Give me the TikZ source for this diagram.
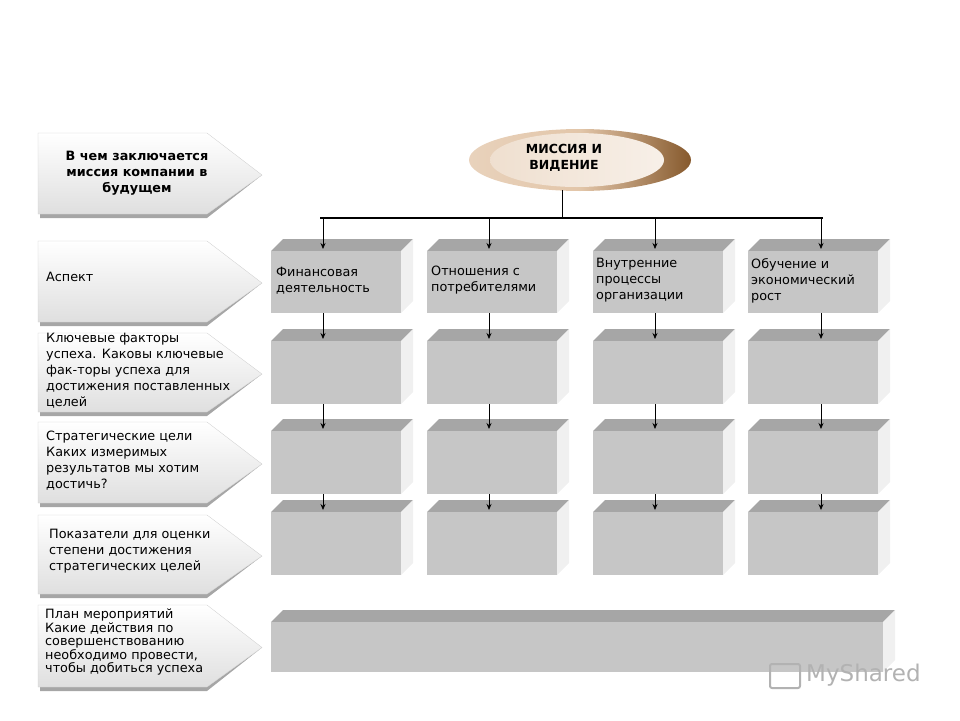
\documentclass[tikz,border=0pt]{standalone}
\usepackage{fontspec}
\setmainfont{DejaVu Sans}
\usetikzlibrary{arrows.meta}
\begin{document}
\begin{tikzpicture}[x=1pt,y=-1pt,
  lbl/.style={anchor=north west,align=left,font=\fontsize{12.8}{16}\selectfont,inner sep=0pt},
  arr/.style={-{Stealth[length=6pt,width=5pt]},line width=0.8pt}]
\useasboundingbox (0,0) rectangle (960,720);
% left arrows
\foreach \t/\b/\n in {133/217/a1,241/325/a2,333/415/a3,422/506/a4,515/597/a5,605/690/a6}{
  \fill[gray!70] (40,\b-3) -- (207,\b-3) -- (262,{(\t+\b)/2}) -- (207,\b+1) -- (40,\b+1) -- cycle;
  \shade[top color=white,bottom color=gray!25,draw=gray!40,line width=0.3pt]
    (38,\t) -- (207,\t) -- (262,{(\t+\b)/2}) -- (207,\b-3) -- (38,\b-3) -- cycle;
  \coordinate (\n) at (38,\t);
}
\node[lbl,font=\bfseries\fontsize{12.8}{16}\selectfont,align=center,anchor=center] (t1) at (137,173) {В чем заключается\\миссия компании в\\будущем};
\node[lbl] (t2) at (46,272) {Аспект};
\node[lbl] (t3) at (46,333) {Ключевые факторы\\успеха. Каковы ключевые\\фак-торы успеха для\\достижения поставленных\\целей};
\node[lbl] (t4) at (46,431) {Стратегические цели\\Каких  измеримых\\результатов мы хотим\\достичь?};
\node[lbl] (t5) at (49,529) {Показатели для оценки\\степени достижения\\стратегических целей};
\node[lbl,font=\fontsize{12.8}{13.5}\selectfont] (t6) at (45,609) {План мероприятий\\Какие действия по\\совершенствованию\\необходимо провести,\\чтобы добиться успеха};
% ellipse
\shade[left color=brown!35!white,right color=brown!70!black,middle color=brown!45!white,draw=none] (580,160) ellipse [x radius=111,y radius=31];
\shade[left color=brown!25!white,right color=brown!12!white] (577,160) ellipse [x radius=87,y radius=27];
\node[font=\bfseries\fontsize{12.5}{16}\selectfont,align=center] (m) at (564,158) {МИССИЯ  И\\ВИДЕНИЕ};
\coordinate (ebot) at (562,190);
\coordinate (bar) at (562,218);
\draw[line width=0.8pt] (ebot) -- (bar);
\draw[line width=2.4pt] (320,218) -- (823,218);
% boxes
\newcommand{\cube}[5]{% x, ytop(front), w, h, name
  \fill[gray!70] (#1,#2) -- (#1+12,#2-12) -- (#1+#3+12,#2-12) -- (#1+#3,#2) -- cycle;
  \fill[gray!12] (#1+#3,#2) -- (#1+#3+12,#2-12) -- (#1+#3+12,#2+#4-12) -- (#1+#3,#2+#4) -- cycle;
  \fill[gray!45] (#1,#2) rectangle (#1+#3,#2+#4);
  \coordinate (#5t) at (#1+52,#2-12);
  \coordinate (#5b) at (#1+52,#2+#4);
}
\foreach \x/\c in {271/A,427/B,593/C,748/D}{
  \cube{\x}{251}{130}{62}{\c1}
  \cube{\x}{341}{130}{63}{\c2}
  \cube{\x}{431}{130}{63}{\c3}
  \cube{\x}{512}{130}{63}{\c4}
}
\cube{271}{622}{612}{50}{E}
\foreach \c/\x in {A/323,B/489,C/655,D/821}{
  \coordinate (\c0) at (\x,219);
  \draw[arr] (\c0) -- (\x,249);
  \draw[arr] (\x,313) -- (\x,339);
  \draw[arr] (\x,404) -- (\x,429);
  \draw[arr] (\x,494) -- (\x,510);
}
\node[lbl] (b1) at (276,267) {Финансовая\\деятельность};
\node[lbl] (b2) at (431,266) {Отношения  с\\потребителями};
\node[lbl] (b3) at (596,258) {Внутренние\\процессы\\организации};
\node[lbl] (b4) at (751,258) {Обучение  и\\экономический\\рост};
\node[font=\fontsize{23}{23}\selectfont,text=gray!60,anchor=west,inner sep=0pt] (logo) at (806,675) {MyShared};
\draw[gray!60,line width=2pt,rounded corners=2pt] (770,664) rectangle (800,688);
\end{tikzpicture}
\end{document}
